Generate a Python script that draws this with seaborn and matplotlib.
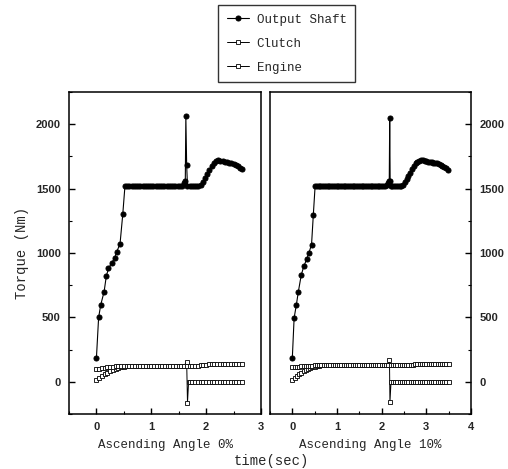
import numpy as np
import pandas as pd
import matplotlib
matplotlib.use("Agg")
import matplotlib.pyplot as plt
import seaborn as sns
from matplotlib.ticker import MultipleLocator

# ---------------- data ----------------
def grid(start, step, n):
    return [round(start + step * i, 3) for i in range(n)]

# Left panel: ascending angle 0%
left_shaft_t = ([0, 0.04, 0.08, 0.14, 0.18, 0.22, 0.28, 0.33, 0.37, 0.43, 0.48, 0.52]
                + grid(0.56, 0.04, 26)
                + [1.60, 1.62, 1.63, 1.645, 1.66]
                + grid(1.70, 0.04, 5)
                + grid(1.90, 0.04, 19) + [2.65])
left_shaft_v = ([186, 500, 600, 700, 820, 880, 925, 960, 1010, 1070, 1300, 1520]
                + [1520] * 26
                + [1540, 1560, 2060, 1680, 1520]
                + [1520] * 5
                + [1530, 1550, 1585, 1615, 1645, 1675, 1700, 1715, 1720, 1716,
                   1712, 1710, 1706, 1702, 1698, 1694, 1685, 1675, 1662] + [1650])

left_clutch_t = grid(0.0, 0.05, 33) + [1.645, 1.66, 1.68] + grid(1.70, 0.05, 20)
left_clutch_v = ([15, 30, 45, 58, 70, 80, 90, 98, 106, 112, 118, 122, 125]
                 + [125] * 20 + [157, -163, 0] + [0] * 20)

left_engine_t = grid(0.0, 0.05, 54)
left_engine_v = ([100, 102, 105, 108, 112, 115, 118, 120, 122, 124, 125]
                 + [125] * 27
                 + [128, 130, 132, 135, 136, 137, 138, 139, 140, 140, 140, 140,
                    139, 139, 138, 138])

# Right panel: ascending angle 10%
right_shaft_t = ([0, 0.04, 0.09, 0.135, 0.2, 0.26, 0.32, 0.37, 0.43, 0.47, 0.51]
                 + grid(0.55, 0.04, 39)
                 + [2.11, 2.14, 2.17, 2.18, 2.19, 2.21]
                 + grid(2.24, 0.04, 6)
                 + grid(2.48, 0.04, 26))
right_shaft_v = ([187, 495, 598, 700, 830, 900, 950, 1000, 1065, 1297, 1520]
                 + [1520] * 39
                 + [1530, 1545, 1560, 2045, 1560, 1520]
                 + [1520] * 6
                 + [1530, 1550, 1575, 1600, 1625, 1650, 1675, 1695, 1708, 1716,
                    1720, 1720, 1716, 1712, 1710, 1708, 1705, 1702, 1698, 1695,
                    1690, 1684, 1677, 1668, 1658, 1648])

right_clutch_t = grid(0.0, 0.05, 44) + [2.175, 2.185, 2.21] + grid(2.25, 0.05, 26)
right_clutch_v = ([13, 30, 45, 60, 72, 82, 90, 98, 106, 112, 118, 122, 126]
                  + [128] * 31 + [167, -160, 0] + [0] * 26)

right_engine_t = grid(0.0, 0.05, 71)
right_engine_v = ([112, 113, 115, 117, 119, 121, 122, 124, 125, 126, 127, 128]
                  + [130] * 42
                  + [133, 136, 138, 140, 140, 140, 140, 140, 140, 140, 140, 140,
                     140, 140, 140, 140, 140])

series_names = ["Output Shaft", "Clutch", "Engine"]
panel_titles = ["Ascending Angle 0%", "Ascending Angle 10%"]
y_ticks = [0, 500, 1000, 1500, 2000]

# ---------------- styling ----------------
sns.set_style("ticks")
plt.rcParams["font.family"] = ["DejaVu Sans"]
mono = "Liberation Mono"

fig = plt.figure(figsize=(5.08, 4.69), dpi=100)
axL = fig.add_axes([69 / 508, 1 - 414 / 469, (261 - 69) / 508, (414 - 92) / 469])
axR = fig.add_axes([270 / 508, 1 - 414 / 469, (471 - 270) / 508, (414 - 92) / 469])

styles = {
    "Output Shaft": dict(marker="o", markersize=3.6, markerfacecolor="black",
                         markeredgecolor="black", color="black", linewidth=0.8),
    "Clutch": dict(marker="s", markersize=2.6, markerfacecolor="white",
                   markeredgecolor="black", markeredgewidth=0.6, color="black",
                   linewidth=0.7),
    "Engine": dict(marker="s", markersize=2.6, markerfacecolor="white",
                   markeredgecolor="black", markeredgewidth=0.6, color="black",
                   linewidth=0.7),
}

panels = [
    (axL, {"Output Shaft": (left_shaft_t, left_shaft_v),
           "Clutch": (left_clutch_t, left_clutch_v),
           "Engine": (left_engine_t, left_engine_v)}, (-0.5, 3), [0, 1, 2, 3]),
    (axR, {"Output Shaft": (right_shaft_t, right_shaft_v),
           "Clutch": (right_clutch_t, right_clutch_v),
           "Engine": (right_engine_t, right_engine_v)}, (-0.5, 4), [0, 1, 2, 3, 4]),
]

for ax, data, xlim, xt in panels:
    for name in series_names:
        t, v = data[name]
        df = pd.DataFrame({"t": t, "v": v})
        sns.lineplot(data=df, x="t", y="v", ax=ax, sort=False,
                     estimator=None, label=name, legend=False, **styles[name])
    ax.set_xlim(*xlim)
    ax.set_ylim(-250, 2250)
    ax.set_xticks(xt)
    ax.set_yticks(y_ticks)
    ax.xaxis.set_minor_locator(MultipleLocator(0.5))
    ax.yaxis.set_minor_locator(MultipleLocator(250))
    ax.tick_params(which="both", direction="in", color="black")
    ax.tick_params(which="major", length=4, width=1, pad=6)
    ax.tick_params(which="minor", length=2.5, width=0.8)
    ax.set_xlabel("")
    ax.set_ylabel("")
    for s in ax.spines.values():
        s.set_linewidth(1.1)
        s.set_color("black")

axL.tick_params(axis="y", which="both", left=True, right=False, labelleft=True)
axR.tick_params(axis="y", which="both", left=False, right=True,
                labelleft=False, labelright=True)

for ax in (axL, axR):
    ax.tick_params(axis="both", which="major", labelsize=8)
    for lab in (ax.xaxis.get_majorticklabels() + ax.yaxis.get_majorticklabels()):
        lab.set_fontfamily("Liberation Sans")
        lab.set_fontweight("bold")
    for t in ax.yaxis.get_major_ticks():
        t.label2.set_fontfamily("Liberation Sans")
        t.label2.set_fontweight("bold")
        t.label2.set_fontsize(8)

axL.set_xlabel(panel_titles[0], fontfamily=mono, fontsize=9, labelpad=5)
axR.set_xlabel(panel_titles[1], fontfamily=mono, fontsize=9, labelpad=5)
axL.set_ylabel("Torque (Nm)", fontfamily=mono, fontsize=10, labelpad=5)

fig.text(0.535, 1 - 461 / 469, "time(sec)", ha="center", va="center",
         fontfamily=mono, fontsize=10)

handles, labels = axL.get_legend_handles_labels()
leg = fig.legend(handles, labels, loc="upper center",
                 bbox_to_anchor=(0.564, 1 - 5 / 469), borderaxespad=0,
                 frameon=True, fancybox=False,
                 prop={"family": mono, "size": 9}, handlelength=1.8,
                 handletextpad=0.6, borderpad=0.7, labelspacing=0.95)
leg.get_frame().set_edgecolor("black")
leg.get_frame().set_linewidth(1.0)

fig.savefig("out.png", dpi=100, facecolor="white")
